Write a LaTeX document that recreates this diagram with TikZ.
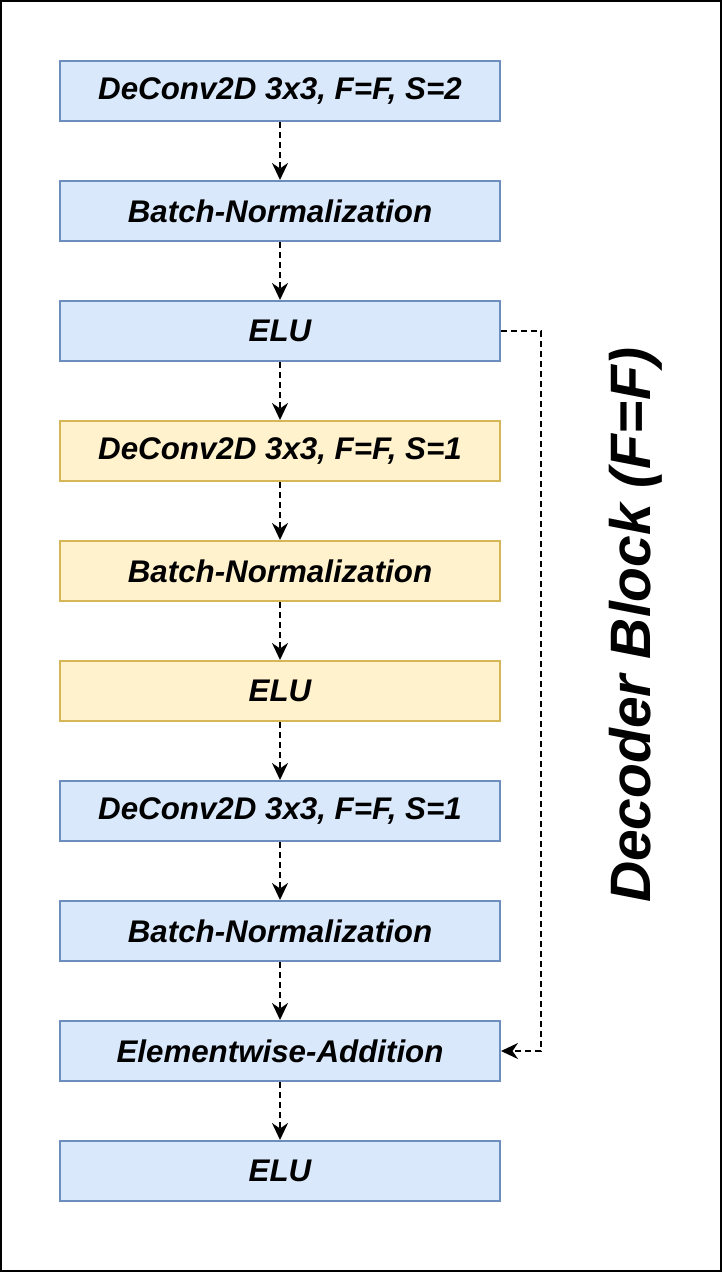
\documentclass[tikz,border=0pt]{standalone}
\usepackage{fontspec}
\setmainfont{Liberation Sans}
\usetikzlibrary{arrows.meta}
\definecolor{bfill}{HTML}{DAE8FC}
\definecolor{bdraw}{HTML}{6C8EBF}
\definecolor{yfill}{HTML}{FFF2CC}
\definecolor{ydraw}{HTML}{D6B656}
\tikzset{
  blk/.style={draw=bdraw, fill=bfill, line width=2pt, minimum width=440pt, minimum height=60pt, inner sep=0pt,
    font=\fontsize{31.3}{37}\selectfont\bfseries\itshape},
  yblk/.style={blk, draw=ydraw, fill=yfill},
  conn/.style={draw=black, line width=2pt, dash pattern=on 6pt off 4pt,
    -{Stealth[length=17pt, width=16pt, inset=5.5pt]}}
}
\begin{document}
\begin{tikzpicture}[x=1pt, y=-1pt]
\useasboundingbox (0,0) rectangle (722,1272);
\draw[line width=2pt] (1,1) rectangle (721,1271);
\node[blk]  (n1)  at (280,91)   {DeConv2D 3x3, F=F, S=2};
\node[blk]  (n2)  at (280,211)  {Batch-Normalization};
\node[blk]  (n3)  at (280,331)  {ELU};
\node[yblk] (n4)  at (280,451)  {DeConv2D 3x3, F=F, S=1};
\node[yblk] (n5)  at (280,571)  {Batch-Normalization};
\node[yblk] (n6)  at (280,691)  {ELU};
\node[blk]  (n7)  at (280,811)  {DeConv2D 3x3, F=F, S=1};
\node[blk]  (n8)  at (280,931)  {Batch-Normalization};
\node[blk]  (n9)  at (280,1051) {Elementwise-Addition};
\node[blk]  (n10) at (280,1171) {ELU};
\foreach \a/\b in {n1/n2,n2/n3,n3/n4,n4/n5,n5/n6,n6/n7,n7/n8,n8/n9,n9/n10}
  \draw[conn] (\a.south) -- (\b.north);
\coordinate (skip) at (541,331);
\draw[conn] (n3.east) -- (skip) |- (n9.east);
\node[rotate=90, anchor=base, inner sep=0pt, font=\fontsize{57}{68}\selectfont\bfseries\itshape] (title) at (650,625) {Decoder Block (F=F)};
\end{tikzpicture}
\end{document}
